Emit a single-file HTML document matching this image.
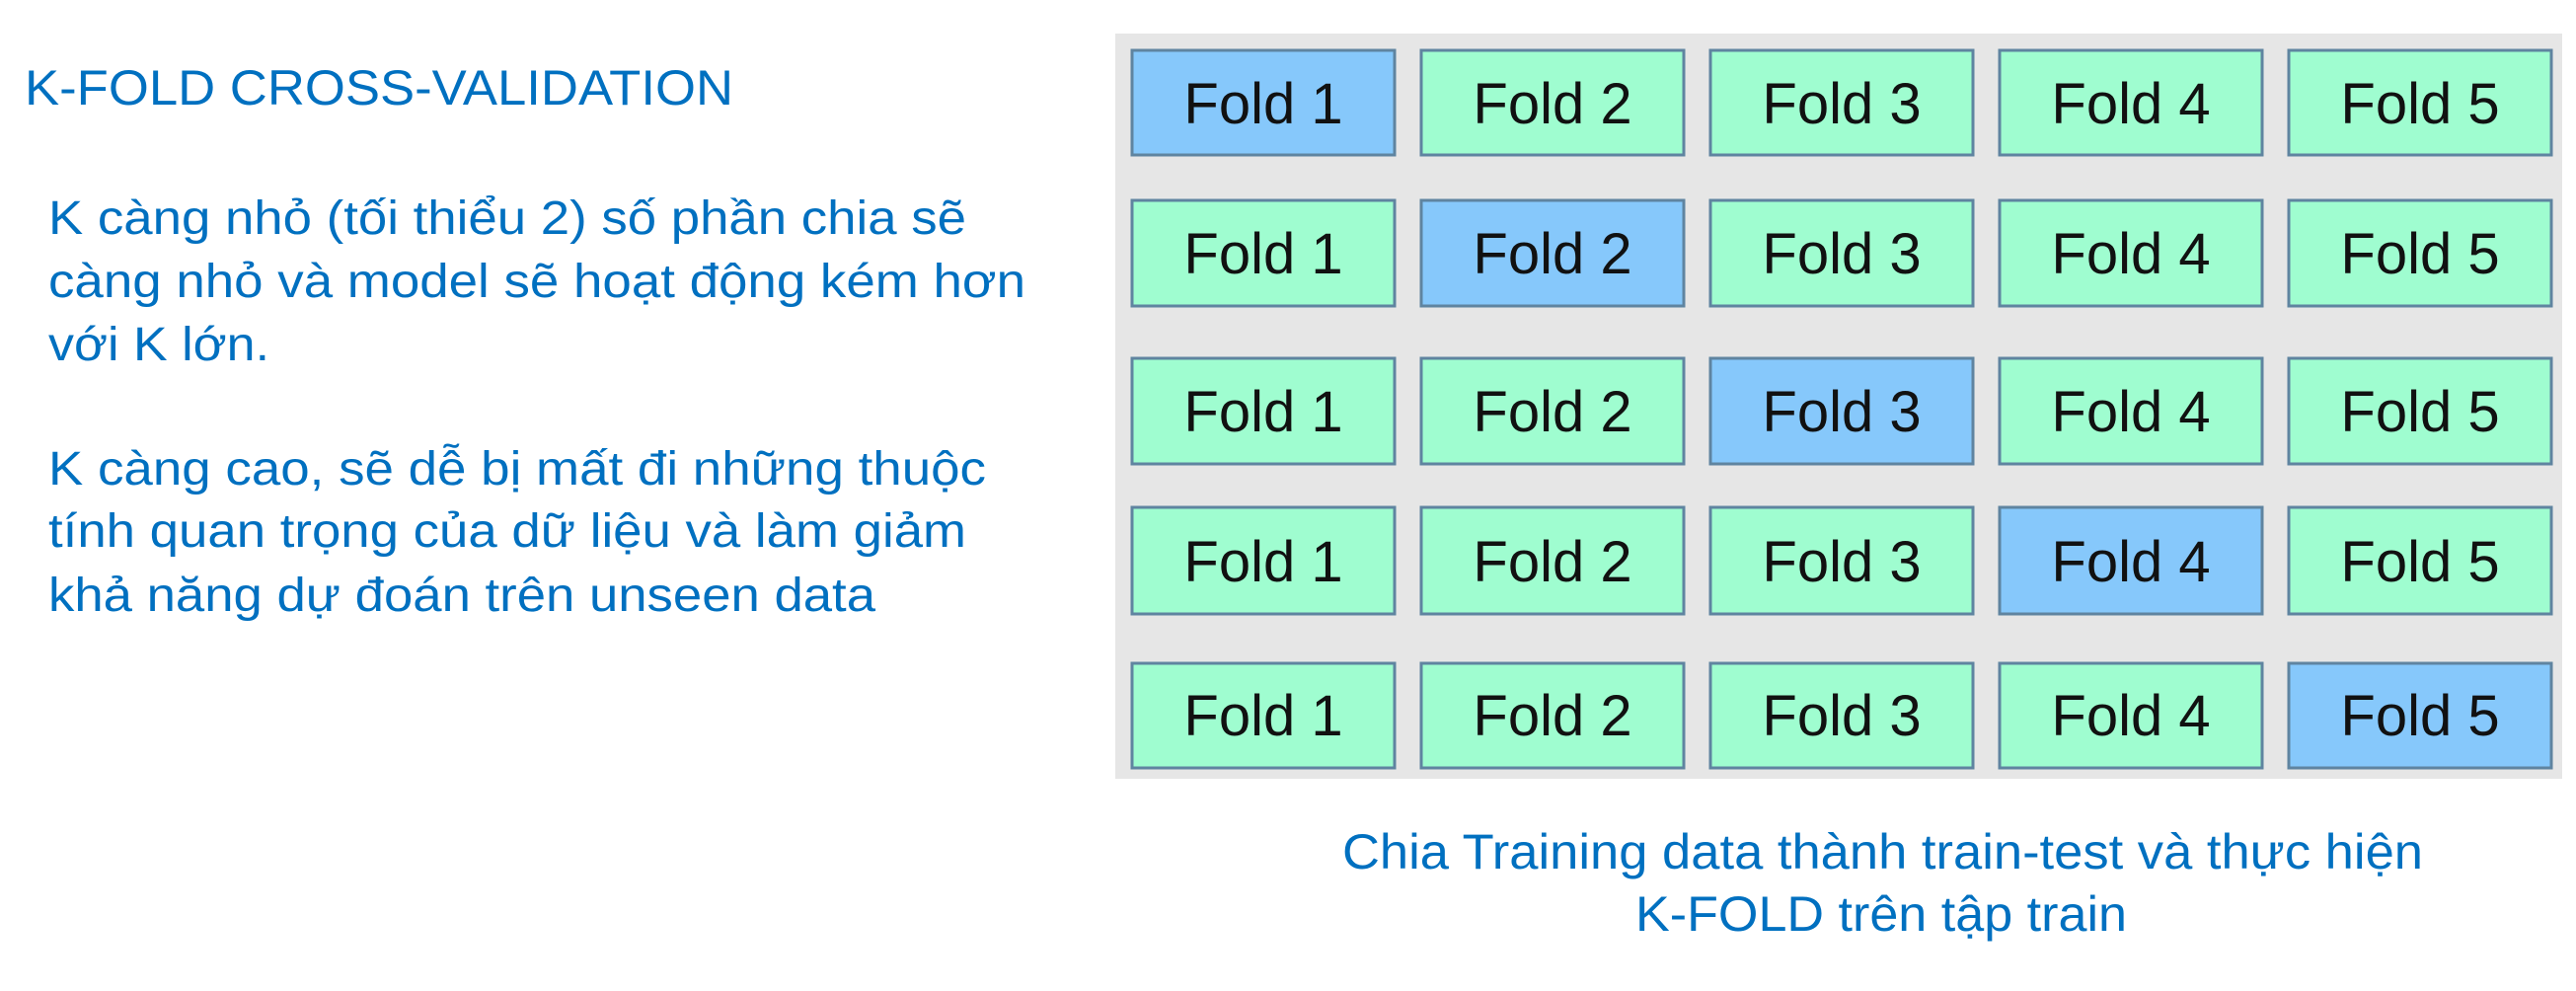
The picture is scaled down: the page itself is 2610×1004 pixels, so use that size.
<!DOCTYPE html>
<html><head><meta charset="utf-8"><style>
html,body{margin:0;padding:0;background:#fff;}
svg{display:block;}
</style></head><body>
<svg width="2610" height="1004" viewBox="0 0 2610 1004" xmlns="http://www.w3.org/2000/svg" font-family="Liberation Sans, Arial, sans-serif">
<rect x="0" y="0" width="2610" height="1004" fill="#fff"/>
<g fill="#0070c0">
<text x="25" y="106" font-size="50" textLength="718" lengthAdjust="spacingAndGlyphs">K-FOLD CROSS-VALIDATION</text>
<text x="49" y="237" font-size="48" textLength="930" lengthAdjust="spacingAndGlyphs">K càng nhỏ (tối thiểu 2) số phần chia sẽ</text>
<text x="49" y="301" font-size="48" textLength="990" lengthAdjust="spacingAndGlyphs">càng nhỏ và model sẽ hoạt động kém hơn</text>
<text x="49" y="365" font-size="48" textLength="224" lengthAdjust="spacingAndGlyphs">với K lớn.</text>
<text x="49" y="491" font-size="48" textLength="950" lengthAdjust="spacingAndGlyphs">K càng cao, sẽ dễ bị mất đi những thuộc</text>
<text x="49" y="554" font-size="48" textLength="930" lengthAdjust="spacingAndGlyphs">tính quan trọng của dữ liệu và làm giảm</text>
<text x="49" y="619" font-size="48" textLength="838" lengthAdjust="spacingAndGlyphs">khả năng dự đoán trên unseen data</text>
<text x="1360" y="880" font-size="50" textLength="1095" lengthAdjust="spacingAndGlyphs">Chia Training data thành train-test và thực hiện</text>
<text x="1657" y="943" font-size="50" textLength="498" lengthAdjust="spacingAndGlyphs">K-FOLD trên tập train</text>
</g>
<rect x="1130" y="34" width="1466" height="755" fill="#e6e6e6"/>
<g stroke="#5f84a0" stroke-width="3" font-size="58" text-anchor="middle" fill="#111">
<!-- rows -->
<g id="boxes"></g>
</g>
<g stroke="#5f84a0" stroke-width="3">
<rect x="1147" y="51" width="266" height="106" fill="#86c8fb"/>
<rect x="1440" y="51" width="266" height="106" fill="#9ffdd0"/>
<rect x="1733" y="51" width="266" height="106" fill="#9ffdd0"/>
<rect x="2026" y="51" width="266" height="106" fill="#9ffdd0"/>
<rect x="2319" y="51" width="266" height="106" fill="#9ffdd0"/>

<rect x="1147" y="203" width="266" height="107" fill="#9ffdd0"/>
<rect x="1440" y="203" width="266" height="107" fill="#86c8fb"/>
<rect x="1733" y="203" width="266" height="107" fill="#9ffdd0"/>
<rect x="2026" y="203" width="266" height="107" fill="#9ffdd0"/>
<rect x="2319" y="203" width="266" height="107" fill="#9ffdd0"/>

<rect x="1147" y="363" width="266" height="107" fill="#9ffdd0"/>
<rect x="1440" y="363" width="266" height="107" fill="#9ffdd0"/>
<rect x="1733" y="363" width="266" height="107" fill="#86c8fb"/>
<rect x="2026" y="363" width="266" height="107" fill="#9ffdd0"/>
<rect x="2319" y="363" width="266" height="107" fill="#9ffdd0"/>

<rect x="1147" y="514" width="266" height="108" fill="#9ffdd0"/>
<rect x="1440" y="514" width="266" height="108" fill="#9ffdd0"/>
<rect x="1733" y="514" width="266" height="108" fill="#9ffdd0"/>
<rect x="2026" y="514" width="266" height="108" fill="#86c8fb"/>
<rect x="2319" y="514" width="266" height="108" fill="#9ffdd0"/>

<rect x="1147" y="672" width="266" height="106" fill="#9ffdd0"/>
<rect x="1440" y="672" width="266" height="106" fill="#9ffdd0"/>
<rect x="1733" y="672" width="266" height="106" fill="#9ffdd0"/>
<rect x="2026" y="672" width="266" height="106" fill="#9ffdd0"/>
<rect x="2319" y="672" width="266" height="106" fill="#86c8fb"/>
</g>
<g font-size="58" text-anchor="middle" fill="#111">
<text x="1280" y="125">Fold 1</text><text x="1573" y="125">Fold 2</text><text x="1866" y="125">Fold 3</text><text x="2159" y="125">Fold 4</text><text x="2452" y="125">Fold 5</text>
<text x="1280" y="277">Fold 1</text><text x="1573" y="277">Fold 2</text><text x="1866" y="277">Fold 3</text><text x="2159" y="277">Fold 4</text><text x="2452" y="277">Fold 5</text>
<text x="1280" y="437">Fold 1</text><text x="1573" y="437">Fold 2</text><text x="1866" y="437">Fold 3</text><text x="2159" y="437">Fold 4</text><text x="2452" y="437">Fold 5</text>
<text x="1280" y="589">Fold 1</text><text x="1573" y="589">Fold 2</text><text x="1866" y="589">Fold 3</text><text x="2159" y="589">Fold 4</text><text x="2452" y="589">Fold 5</text>
<text x="1280" y="745">Fold 1</text><text x="1573" y="745">Fold 2</text><text x="1866" y="745">Fold 3</text><text x="2159" y="745">Fold 4</text><text x="2452" y="745">Fold 5</text>
</g>
</svg>
</body></html>
